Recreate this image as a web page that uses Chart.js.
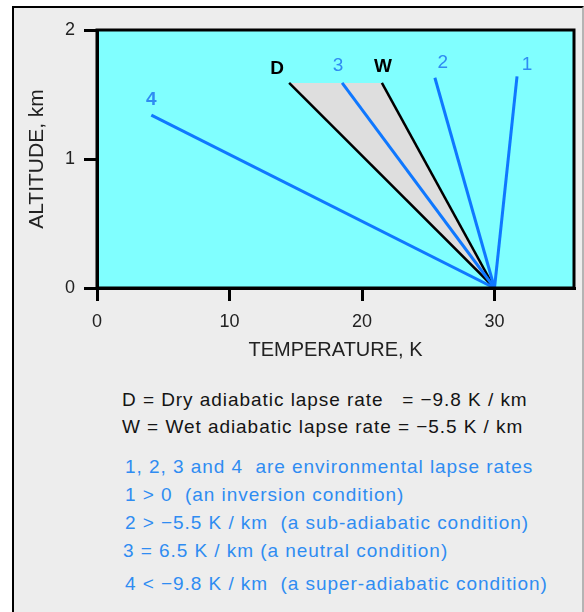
<!DOCTYPE html>
<html>
<head>
<meta charset="utf-8">
<script src="https://cdn.jsdelivr.net/npm/chart.js@4.4.1/dist/chart.umd.min.js"></script>
<style>
  body { margin: 0; background: #fff; width: 584px; height: 612px; overflow: hidden; position: relative; font-family: "Liberation Sans", Arial, sans-serif; }
  #frame { position: absolute; left: 12px; top: 6px; width: 568px; height: 620px; background: #ededed; border-left: 2px solid #000; border-top: 2px solid #000; border-right: 2px solid #b4b4b4; }
  #myChart { position: absolute; left: 0; top: 0; }
  .note { position: absolute; white-space: pre; font-size: 19px; line-height: 20px; letter-spacing: 0.95px; }
  .blk { color: #141414; }
  .blu { color: #2f8cf2; }
</style>
</head>
<body>
<div id="frame"></div>
<canvas id="myChart" width="584" height="366"></canvas>
<div class="note blk" style="left:122px; top:390px">D = Dry adiabatic lapse rate   = −9.8 K / km</div>
<div class="note blk" style="left:122px; top:417px">W = Wet adiabatic lapse rate = −5.5 K / km</div>
<div class="note blu" style="left:125px; top:457px">1, 2, 3 and 4  are environmental lapse rates</div>
<div class="note blu" style="left:125px; top:485px">1 &gt; 0  (an inversion condition)</div>
<div class="note blu" style="left:125px; top:513px">2 &gt; −5.5 K / km  (a sub-adiabatic condition)</div>
<div class="note blu" style="left:123px; top:541px">3 = 6.5 K / km (a neutral condition)</div>
<div class="note blu" style="left:125px; top:574px">4 &lt; −9.8 K / km  (a super-adiabatic condition)</div>
<script>
// lines all start at the surface, 30 K
var baseTemp = 30;
var baseAlt = 0;
var lineNames = ['1', '2', '3', '4', 'D', 'W'];
var topTemp = [31.7, 25.5, 18.5, 4.1, 14.5, 21.5];
var topAlt = [1.64, 1.63, 1.59, 1.34, 1.59, 1.59];
var xTickValues = [0, 10, 20, 30];
var yTickValues = [0, 1, 2];

var blue = '#0f78ff';
var labelOffsets = { '1': [10, -12], '2': [8, -15], '3': [-4, -17], '4': [0, -15], 'D': [-12, -14], 'W': [1, -16] };

var datasets = lineNames.map(function (name, i) {
  var dry = name === 'D' || name === 'W';
  return {
    label: name,
    data: [{x: baseTemp, y: baseAlt}, {x: topTemp[i], y: topAlt[i]}],
    showLine: true,
    borderColor: dry ? '#000000' : blue,
    borderWidth: dry ? 2.5 : 3,
    pointRadius: 0,
    fill: false,
    order: 1
  };
});

// grey wedge between D and W
var iD = lineNames.indexOf('D'), iW = lineNames.indexOf('W');
datasets.push({
  label: 'wedge',
  data: [{x: baseTemp, y: baseAlt}, {x: topTemp[iD], y: topAlt[iD]}, {x: topTemp[iW], y: topAlt[iW]}, {x: baseTemp, y: baseAlt}],
  showLine: true,
  borderWidth: 0,
  borderColor: 'rgba(0,0,0,0)',
  backgroundColor: '#dedede',
  pointRadius: 0,
  fill: 'shape',
  order: 5
});

var plotStyle = {
  id: 'plotStyle',
  beforeDraw: function (chart) {
    var a = chart.chartArea, c = chart.ctx;
    c.save();
    c.fillStyle = '#80ffff';
    c.fillRect(a.left, a.top, a.right - a.left, a.bottom - a.top);
    c.restore();
  },
  afterDatasetsDraw: function (chart) {
    var a = chart.chartArea, c = chart.ctx;
    c.save();
    c.strokeStyle = '#000';
    c.lineWidth = 3;
    c.strokeRect(a.left, a.top, a.right - a.left, a.bottom - a.top);
    c.textAlign = 'center';
    c.textBaseline = 'middle';
    lineNames.forEach(function (name, i) {
      var pt = chart.getDatasetMeta(i).data[1];
      var off = labelOffsets[name];
      var dry = name === 'D' || name === 'W';
      c.fillStyle = dry ? '#000' : '#2f8cf2';
      c.font = (dry || name === '4' ? 'bold ' : '') + '19px "Liberation Sans", Arial, sans-serif';
      c.fillText(name, pt.x + off[0], pt.y + off[1]);
    });
    c.restore();
  }
};

Chart.defaults.font.family = '"Liberation Sans", Arial, sans-serif';

var ctx = document.getElementById('myChart').getContext('2d');
var myChart = new Chart(ctx, {
  type: 'scatter',
  data: { datasets: datasets },
  options: {
    responsive: false,
    animation: false,
    layout: { padding: { left: 21, right: 10, top: 30, bottom: 0 } },
    plugins: {
      legend: { display: false },
      tooltip: { enabled: false }
    },
    scales: {
      x: {
        type: 'linear',
        min: 0,
        max: 36,
        afterBuildTicks: function (s) { s.ticks = xTickValues.map(function (v) { return {value: v}; }); },
        afterFit: function (s) { s.height = 78; },
        grid: { drawOnChartArea: false, color: '#000', lineWidth: 3, tickLength: 13 },
        border: { color: '#000', width: 3 },
        ticks: { padding: 10, color: '#222', font: { size: 18 } },
        title: { display: true, text: 'TEMPERATURE, K', color: '#222', font: { size: 20 }, padding: { top: 4, bottom: 4 } }
      },
      y: {
        type: 'linear',
        min: 0,
        max: 2,
        afterBuildTicks: function (s) { s.ticks = yTickValues.map(function (v) { return {value: v}; }); },
        afterFit: function (s) { s.width = 76; },
        grid: { drawOnChartArea: false, color: '#000', lineWidth: 3, tickLength: 13 },
        border: { color: '#000', width: 3 },
        ticks: { padding: 9, color: '#222', font: { size: 18 } },
        title: { display: true, text: 'ALTITUDE, km', color: '#222', font: { size: 21 }, padding: { top: 4, bottom: 4 } }
      }
    }
  },
  plugins: [plotStyle]
});
</script>
</body>
</html>
